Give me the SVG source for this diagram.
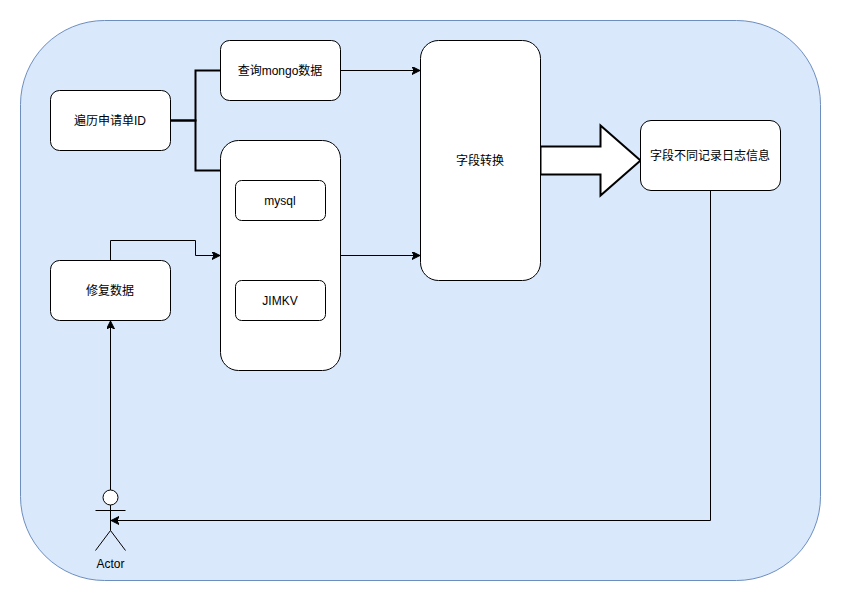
<svg xmlns="http://www.w3.org/2000/svg" width="841" height="601" viewBox="0 0 841 601">
<style>
.n{fill:#fff;stroke:#000;stroke-width:1}
.c{fill:none;stroke:#000;stroke-width:1}
.t{fill:none;stroke:#000;stroke-width:2}
text{font-family:"Liberation Sans","Noto Sans CJK SC",sans-serif;font-size:12px;text-anchor:middle;fill:#000}
</style>
<defs>
<marker id="a" markerUnits="userSpaceOnUse" markerWidth="10" markerHeight="10" refX="8" refY="4" orient="auto"><path d="M0,0L8,4L0,8L2,4Z" fill="#000" stroke="#000" stroke-width="1"/></marker>
</defs>
<rect width="841" height="601" fill="#fff"/>
<g id="bg"><rect x="20.500" y="20.500" width="800" height="560" rx="84" ry="84" fill="#dae8fc" stroke="#6c8ebf"/></g>
<g id="connectors">
<path class="t" d="M170.500 120.500H195.500V70.500H220.500"/>
<path class="t" d="M170.500 120.500H195.500V170.500H220.500"/>
<path class="c" d="M340.500 70.500H420" marker-end="url(#a)"/>
<path class="c" d="M340.500 255.500H420" marker-end="url(#a)"/>
<path class="c" d="M110.500 260.500V240.500H195.500V255.500H220" marker-end="url(#a)"/>
<path class="c" d="M110.500 490V321" marker-end="url(#a)"/>
<path class="c" d="M710.500 190.500V520.500H111" marker-end="url(#a)"/>
</g>
<g id="arrow"><path d="M540.500 146.500H600.500V125.500L640.500 160.500L600.500 195.500V174.500H540.500Z" fill="#fff" stroke="#000" stroke-width="2"/></g>
<g id="n1"><rect class="n" x="50.500" y="90.500" width="120" height="60" rx="9"/><text x="110" y="124.500">遍历申请单ID</text></g>
<g id="n2"><rect class="n" x="220.500" y="40.500" width="120" height="60" rx="9"/><text x="280" y="74.500">查询mongo数据</text></g>
<g id="n3"><rect class="n" x="220.500" y="140.500" width="120" height="230" rx="18"/></g>
<g id="n4"><rect class="n" x="235.500" y="180.500" width="90" height="40" rx="6"/><text x="280" y="204.500">mysql</text></g>
<g id="n5"><rect class="n" x="235.500" y="280.500" width="90" height="40" rx="6"/><text x="280" y="304.500">JIMKV</text></g>
<g id="n6"><rect class="n" x="420.500" y="40.500" width="120" height="240" rx="18"/><text x="480" y="164.500">字段转换</text></g>
<g id="n7"><rect class="n" x="640.500" y="120.500" width="140" height="70" rx="10.500"/><text x="710" y="159.500">字段不同记录日志信息</text></g>
<g id="n8"><rect class="n" x="50.500" y="260.500" width="120" height="60" rx="9"/><text x="110" y="294.500">修复数据</text></g>
<g id="actor"><circle class="n" cx="110.500" cy="497.500" r="7.500"/><path class="c" d="M110.500 505V530.500M95.500 510.500H125.500M110.500 530.500L95.500 550.500M110.500 530.500L125.500 550.500"/><text x="110.500" y="568">Actor</text></g>
</svg>
